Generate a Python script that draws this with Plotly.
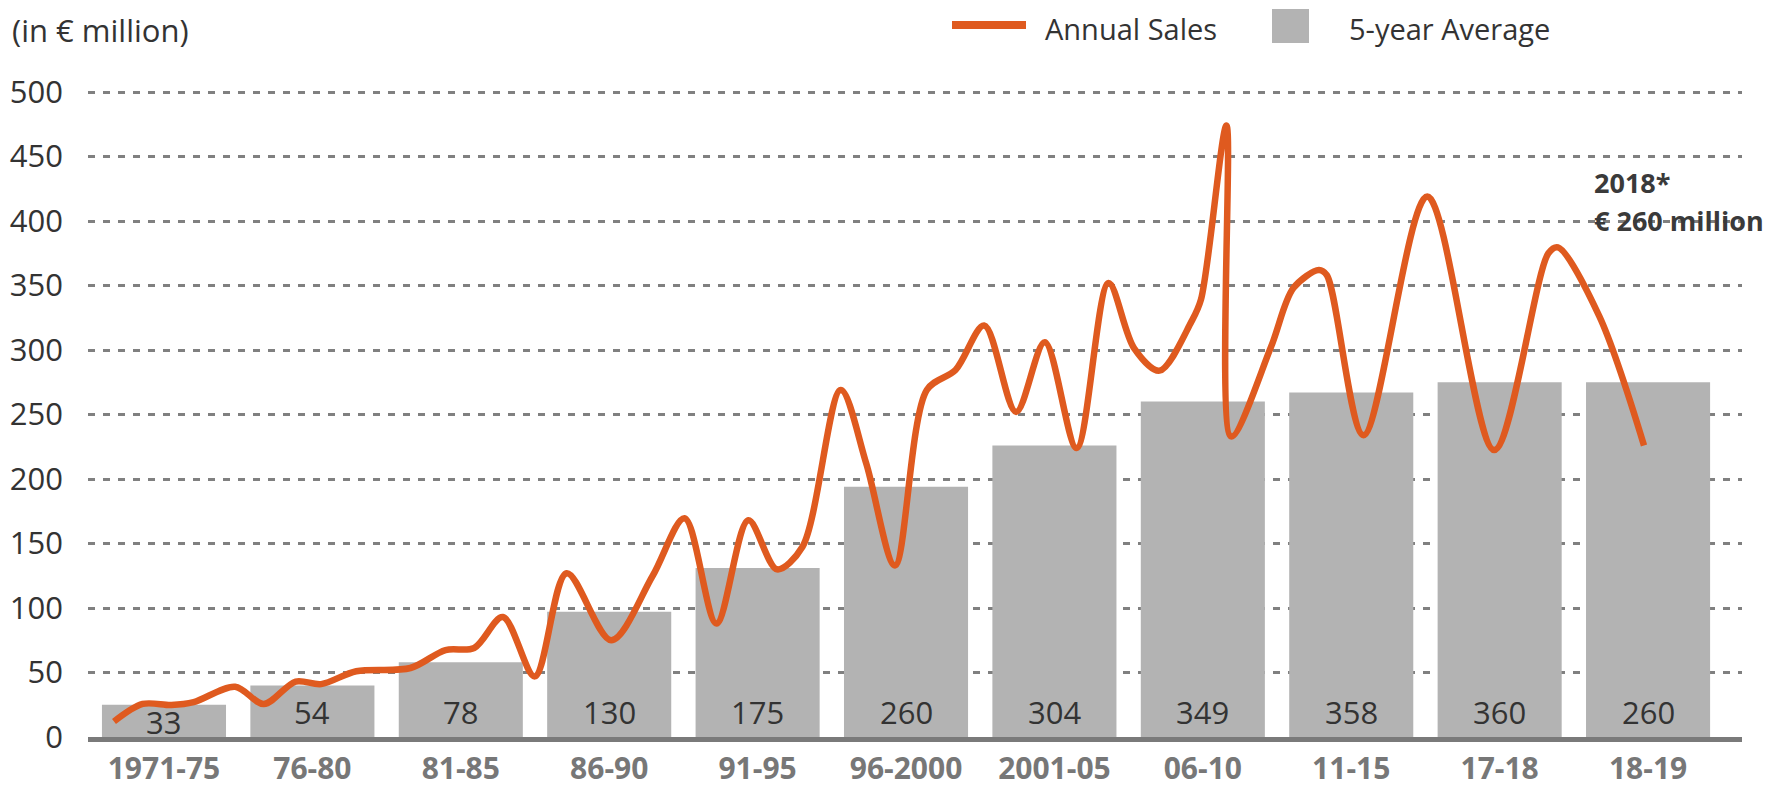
import plotly.graph_objects as go

# ---------------- data ----------------
periods = ["1971-75", "76-80", "81-85", "86-90", "91-95", "96-2000",
           "2001-05", "06-10", "11-15", "17-18", "18-19"]
avg_bar_heights = [25, 40, 58, 97, 131, 194, 226, 260, 267, 275, 275]
avg_labels = ["33", "54", "78", "130", "175", "260", "304", "349", "358", "360", "260"]

sales_years = [1971.0, 1971.9, 1972.8, 1973.5, 1974.8, 1975.7, 1976.7, 1977.5,
               1978.6, 1980.3, 1981.4, 1982.3, 1983.2, 1984.2, 1985.2, 1986.6,
               1987.9, 1988.9, 1989.9, 1990.9, 1991.8, 1992.6, 1993.8, 1994.6,
               1995.5, 1996.5, 1997.4, 1998.3, 1999.3, 2000.2, 2001.2, 2002.2,
               2003.0, 2003.8, 2004.8, 2005.1, 2005.9, 2006.05, 2007.3, 2008.0,
               2008.8, 2009.05, 2010.2, 2012.2, 2014.3, 2016.0, 2016.3, 2017.6,
               2019.0]
sales_values = [12, 25.6, 24.8, 27, 39, 25.6, 43, 41,
                51, 53.5, 67.4, 69, 93, 47, 127, 75,
                125, 169.5, 88, 168, 130, 147.5, 269, 212,
                133, 269, 284.5, 319, 252, 306, 224, 352,
                301.5, 284, 322, 339, 474, 233, 302.5, 348,
                362, 358, 234, 419, 222.5, 375, 379.6, 326,
                226]

note_lines = ["2018*", "€ 260 million"]
y_ticks = list(range(0, 501, 50))

# ---------------- styling ----------------
W, H = 1781, 789
OFF = 8                                  # default page body margin
SCALE = (737 - 92) / 500                 # pixels per € million
L, R, T, B = 88, 1742, 88, 737          # plot area in page pixels
Y_TOP = (B - T) / SCALE
ORANGE = "#DF5A1F"
GREY_BAR = "#B3B3B3"
FONT = "Open Sans, Noto Sans, Liberation Sans, sans-serif"
TXT = "#333333"


def px(x):
    return (x - L) / (R - L)


def py(y):
    return (B - y) / (B - T)


fig = go.Figure()

fig.add_trace(go.Bar(
    x=list(range(len(periods))), y=avg_bar_heights,
    marker=dict(color=GREY_BAR, line=dict(width=0)),
    name="5-year Average", showlegend=False, hoverinfo="skip",
))

fig.add_trace(go.Scatter(
    x=sales_years, y=sales_values, xaxis="x2",
    mode="lines", line=dict(color=ORANGE, width=6.5, shape="spline", smoothing=0.9),
    name="Annual Sales", showlegend=False, hoverinfo="skip",
))

# bar value labels
for i, lab in enumerate(avg_labels):
    fig.add_annotation(x=i, y=12 if avg_bar_heights[i] < 30 else 19.6,
                       xref="x", yref="y", text=lab, showarrow=False,
                       font=dict(family=FONT, size=31, color=TXT),
                       xanchor="center", yanchor="middle")

# unit title
fig.add_annotation(x=px(10), y=py(30), xref="paper", yref="paper",
                   text="(in € million)", showarrow=False,
                   xanchor="left", yanchor="middle",
                   font=dict(family=FONT, size=31, color=TXT))

# note
fig.add_annotation(x=px(1592), y=py(182), xref="paper", yref="paper",
                   text="<b>%s</b>" % note_lines[0], showarrow=False,
                   xanchor="left", yanchor="middle",
                   font=dict(family=FONT, size=27, color="#3a3a3a"))
fig.add_annotation(x=px(1592), y=py(220), xref="paper", yref="paper",
                   text="<b>%s</b>" % note_lines[1], showarrow=False,
                   xanchor="left", yanchor="middle",
                   font=dict(family=FONT, size=27, color="#3a3a3a"))

# manual legend
fig.add_shape(type="line", xref="paper", yref="paper",
              x0=px(952), x1=px(1026), y0=py(25), y1=py(25),
              line=dict(color=ORANGE, width=8))
fig.add_annotation(x=px(1043), y=py(28), xref="paper", yref="paper",
                   text="Annual Sales", showarrow=False, xanchor="left", yanchor="middle",
                   font=dict(family=FONT, size=29, color=TXT))
fig.add_shape(type="rect", xref="paper", yref="paper",
              x0=px(1272), x1=px(1309), y0=py(43), y1=py(9),
              fillcolor=GREY_BAR, line=dict(width=0))
fig.add_annotation(x=px(1347), y=py(28), xref="paper", yref="paper",
                   text="5-year Average", showarrow=False, xanchor="left", yanchor="middle",
                   font=dict(family=FONT, size=29, color=TXT))

cat_left = -0.512
cat_right = 10.633
yr_left = 1971 + (L - 114) / 31.875
yr_right = 1971 + (R - 114) / 31.875

fig.update_layout(
    width=W - OFF, height=H - OFF,
    margin=dict(l=L - OFF, r=W - R, t=T - OFF, b=H - B, autoexpand=False),
    paper_bgcolor="white", plot_bgcolor="white",
    bargap=0.164,
    showlegend=False,
    xaxis=dict(
        range=[cat_left, cat_right],
        tickmode="array", tickvals=list(range(len(periods))),
        ticktext=["<b>%s</b>" % p for p in periods],
        tickfont=dict(family=FONT, size=30, color="#777777"),
        showgrid=False, zeroline=False,
        showline=True, linecolor="#7a7a7a", linewidth=5,
        ticks="", ticklabelstandoff=1,
        automargin=False, fixedrange=True,
    ),
    xaxis2=dict(
        overlaying="x", range=[yr_left, yr_right], visible=False,
        showgrid=False, zeroline=False, fixedrange=True,
    ),
    yaxis=dict(
        range=[0, Y_TOP], tickmode="array", tickvals=y_ticks,
        tickfont=dict(family=FONT, size=31, color=TXT),
        showgrid=True, gridcolor="#808080", gridwidth=2.5, griddash="7px,8px",
        zeroline=False, showline=False, ticks="", ticklabelstandoff=24,
        automargin=False, fixedrange=True,
    ),
    font=dict(family=FONT),
)

fig.write_html("out.html")
